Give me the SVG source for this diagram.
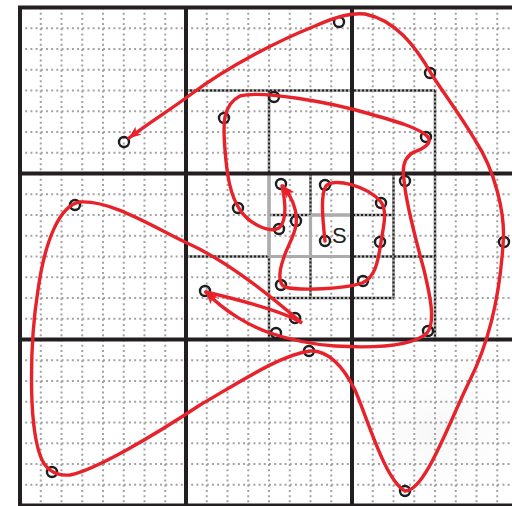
<svg xmlns="http://www.w3.org/2000/svg" width="512" height="506" viewBox="0 0 512 506">
<defs>
<style>
.fine{fill:none;stroke:#a3a3a3;stroke-width:2;stroke-dasharray:2 3.1875}
.thick{fill:none;stroke:#231f20;stroke-width:4}
.dbase{fill:none;stroke:#a8a8a8;stroke-width:3}
.dtop{fill:none;stroke:#222;stroke-width:2;stroke-dasharray:2 2}
.gray{fill:none;stroke:#acacac;stroke-width:3.2}
.node{fill:none;stroke:#1e1e1e;stroke-width:2.4}
.route{fill:none;stroke:#e8222a;stroke-width:3.4;stroke-linejoin:miter;stroke-linecap:round}
.lbl{font-family:"Liberation Sans",Arial,sans-serif;font-size:22px;fill:#222}
</style>
<marker id="ah" markerUnits="userSpaceOnUse" markerWidth="13" markerHeight="10" refX="12" refY="5" orient="auto">
<path d="M0,0 L13,5 L0,10 L3,5 z" fill="#e8222a"/>
</marker>
<radialGradient id="bg" cx="0.5" cy="0.5" r="0.5">
<stop offset="0" stop-color="#eef1ef" stop-opacity="0.6"/>
<stop offset="1" stop-color="#ffffff" stop-opacity="0"/>
</radialGradient>
</defs>
<rect x="0" y="0" width="512" height="506" fill="#fff"/>
<ellipse cx="440" cy="430" rx="110" ry="90" fill="url(#bg)"/>
<g id="grid">
<path class="fine" d="M40.75 7.5V505.5M61.5 7.5V505.5M82.25 7.5V505.5M103 7.5V505.5M123.75 7.5V505.5M144.5 7.5V505.5M165.25 7.5V505.5M206.75 7.5V505.5M227.5 7.5V505.5M248.25 7.5V505.5M269 7.5V505.5M289.75 7.5V505.5M310.5 7.5V505.5M331.25 7.5V505.5M372.75 7.5V505.5M393.5 7.5V505.5M414.25 7.5V505.5M435 7.5V505.5M455.75 7.5V505.5M476.5 7.5V505.5M497.25 7.5V505.5"/>
<path class="fine" d="M20 28.25H512M20 49H512M20 69.75H512M20 90.5H512M20 111.25H512M20 132H512M20 152.75H512M20 194.25H512M20 215H512M20 235.75H512M20 256.5H512M20 277.25H512M20 298H512M20 318.75H512M20 360.25H512M20 381H512M20 401.75H512M20 422.5H512M20 443.25H512M20 464H512M20 484.75H512"/>
<path class="dbase" d="M186 90.5H435M435 90.5V339.5M269 90.5V339.5M186 256.5H435M310.5 173.5V298M393.5 173.5V298M269 215H393.5M269 298H393.5"/>
<path class="dtop" d="M186 90.5H435M435 90.5V339.5M269 90.5V339.5M186 256.5H435M310.5 173.5V298M393.5 173.5V298M269 215H393.5M269 298H393.5"/>
<path class="gray" d="M269 173.5V256.5M269 256.5H352M310.5 215V256.5M310.5 215H352"/>
<path class="thick" d="M20 5.5V507M18 7.5H512M186 7.5V507M352 7.5V507M20 173.5H512M20 339.5H512M20 505.5H512"/>
</g>
<g id="n1"><circle class="node" cx="124" cy="142" r="5"/></g>
<g id="n2"><circle class="node" cx="339" cy="22" r="5"/></g>
<g id="n3"><circle class="node" cx="430" cy="73" r="5"/></g>
<g id="n4"><circle class="node" cx="274" cy="97" r="5"/></g>
<g id="n5"><circle class="node" cx="224" cy="118" r="5"/></g>
<g id="n6"><circle class="node" cx="426" cy="137" r="5"/></g>
<g id="n7"><circle class="node" cx="405" cy="181" r="5"/></g>
<g id="n8"><circle class="node" cx="75" cy="205" r="5"/></g>
<g id="n9"><circle class="node" cx="238" cy="208" r="5"/></g>
<g id="n10"><circle class="node" cx="281" cy="184" r="5"/></g>
<g id="n11"><circle class="node" cx="325" cy="185" r="5"/></g>
<g id="n12"><circle class="node" cx="381" cy="203" r="5"/></g>
<g id="n13"><circle class="node" cx="296" cy="221" r="5"/></g>
<g id="n14"><circle class="node" cx="279" cy="229" r="5"/></g>
<g id="n15"><circle class="node" cx="325" cy="241" r="5"/><text class="lbl" x="332" y="243">S</text></g>
<g id="n16"><circle class="node" cx="380" cy="242" r="5"/></g>
<g id="n17"><circle class="node" cx="504" cy="242" r="5"/></g>
<g id="n18"><circle class="node" cx="281" cy="285" r="5"/></g>
<g id="n19"><circle class="node" cx="363" cy="281" r="5"/></g>
<g id="n20"><circle class="node" cx="205" cy="291" r="5"/></g>
<g id="n21"><circle class="node" cx="295" cy="318" r="5"/></g>
<g id="n22"><circle class="node" cx="276" cy="333" r="5"/></g>
<g id="n23"><circle class="node" cx="428" cy="331" r="5"/></g>
<g id="n24"><circle class="node" cx="309" cy="351" r="5"/></g>
<g id="n25"><circle class="node" cx="52" cy="472" r="5"/></g>
<g id="n26"><circle class="node" cx="405" cy="491" r="5"/></g>
<g id="connectors">
<path class="route" marker-end="url(#ah)" d="M325,241 C323,222 320,195 326,186 C333,177 368,186 381,202 C388,212 383,228 381,242 C378,262 375,278 362,283 C345,289 300,291 285,287 C278,284 279,272 283,260 C287,246 294,238 296,225 C298,210 291,196 283,186"/>
<path class="route" marker-end="url(#ah)" d="M282,186 C285,200 288,220 279,228 C268,234 248,222 240,210 C230,195 227,175 225,150 C223,125 222,105 240,96 C260,90 330,102 370,114 C395,121 420,128 428,137 C432,143 425,148 414,152 C404,157 402,168 404,180 C406,205 416,240 424,270 C430,295 436,322 427,333 C412,347 370,348 335,346 C305,344 285,338 270,333 C250,326 225,312 206,292"/>
<path class="route" marker-end="url(#ah)" d="M206,292 C240,300 285,312 302,323 C275,300 230,262 185,242 C150,225 110,200 80,202 C60,205 45,240 38,290 C30,340 28,420 40,455 C45,470 55,476 70,475 C95,470 150,438 200,405 C240,382 280,355 310,351 C330,350 345,370 355,390 C368,420 385,480 405,491 C425,492 450,420 470,380 C490,340 500,290 503,245 C506,215 495,170 475,140 C460,115 445,95 432,75 C415,45 395,20 365,14 C352,13 340,15 315,26 C280,40 230,65 190,95 C170,110 150,122 129,138"/>
</g>
</svg>
